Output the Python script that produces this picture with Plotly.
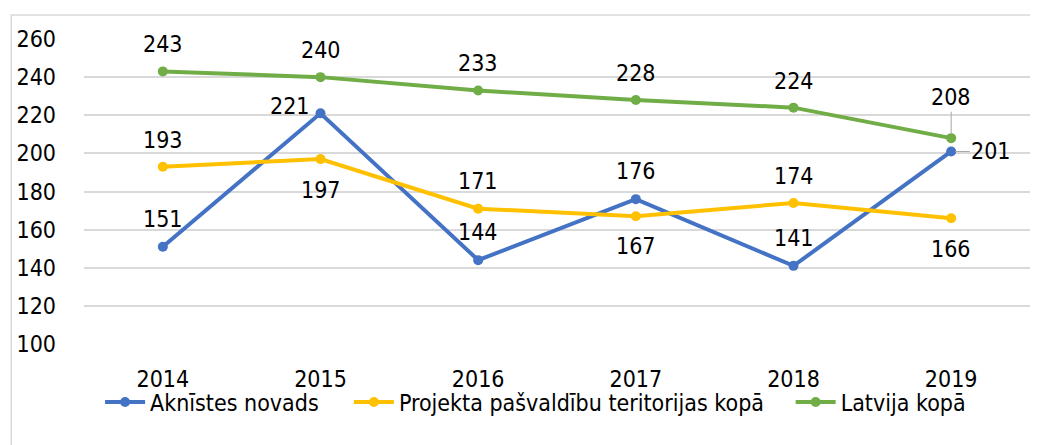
import plotly.graph_objects as go

years = ["2014", "2015", "2016", "2017", "2018", "2019"]
aknistes = [151, 221, 144, 176, 141, 201]
projekta = [193, 197, 171, 167, 174, 166]
latvija = [243, 240, 233, 228, 224, 208]

names = ["Aknīstes novads", "Projekta pašvaldību teritorijas kopā", "Latvija kopā"]
colors = ["#4472C4", "#FFC000", "#70AD47"]
legend_ids = ["legend", "legend2", "legend3"]
legend_x = [0.017, 0.280, 0.747]

# label placement per point: (dx, dy, leader)
pos_akn = [(0, -28, False), (-31, -7, False), (0, -28, False), (0, -28, False), (0, -28, False), (40, 0, True)]
pos_proj = [(0, -27, False), (0, 31, False), (0, -28, False), (0, 30, False), (0, -27, False), (0, 31, False)]
pos_lat = [(0, -27, False), (0, -27, False), (0, -27, False), (0, -27, False), (0, -27, False), (0, -41, True)]

FONT = "DejaVu Sans Condensed, DejaVu Sans, sans-serif"
FS = 23

fig = go.Figure()
for name, vals, col, lg in zip(names, [aknistes, projekta, latvija], colors, legend_ids):
    fig.add_trace(go.Scatter(
        x=years, y=vals, name=name, mode="lines+markers",
        line=dict(color=col, width=4),
        marker=dict(color=col, size=10),
        legend=lg, showlegend=True,
    ))

annotations = []
for vals, poss in zip([aknistes, projekta, latvija], [pos_akn, pos_proj, pos_lat]):
    for i, (v, (dx, dy, leader)) in enumerate(zip(vals, poss)):
        if leader:
            annotations.append(dict(
                x=i, y=v, xref="x", yref="y", text=str(v),
                showarrow=True, arrowhead=0, arrowwidth=1, arrowcolor="#A6A6A6",
                ax=dx, ay=dy, standoff=4,
                font=dict(family=FONT, size=FS, color="#000000"),
            ))
        else:
            annotations.append(dict(
                x=i, y=v, xref="x", yref="y", text=str(v),
                showarrow=False, xshift=dx, yshift=-dy,
                font=dict(family=FONT, size=FS, color="#000000"),
            ))

legend_common = dict(orientation="h", xanchor="left", y=-0.12, yanchor="top",
                     font=dict(family=FONT, size=FS, color="#000000"),
                     itemwidth=40, bgcolor="rgba(0,0,0,0)")

fig.update_layout(
    width=1030, height=437,
    margin=dict(l=73, r=8, t=31, b=101),
    paper_bgcolor="white", plot_bgcolor="white",
    font=dict(family=FONT, size=FS, color="#000000"),
    showlegend=True,
    legend=dict(x=legend_x[0], **legend_common),
    legend2=dict(x=legend_x[1], **legend_common),
    legend3=dict(x=legend_x[2], **legend_common),
    annotations=annotations,
    shapes=[dict(type="rect", xref="paper", yref="paper",
                 x0=-0.0769, x1=1.02, y0=-0.6, y1=1.0787,
                 line=dict(color="#D9D9D9", width=1.5), fillcolor="rgba(0,0,0,0)",
                 layer="below")],
)
fig.update_xaxes(type="category", range=[-0.5, len(years) - 0.5], autorange=False,
                 showgrid=False, showline=False, zeroline=False,
                 tickfont=dict(family=FONT, size=FS), ticklabelstandoff=19)
fig.update_yaxes(range=[100, 260], autorange=False, dtick=20, showgrid=True, gridcolor="#D9D9D9",
                 gridwidth=1.5, zeroline=False, showline=False,
                 tickfont=dict(family=FONT, size=FS), ticklabelstandoff=27)

fig.write_html("out.html")
